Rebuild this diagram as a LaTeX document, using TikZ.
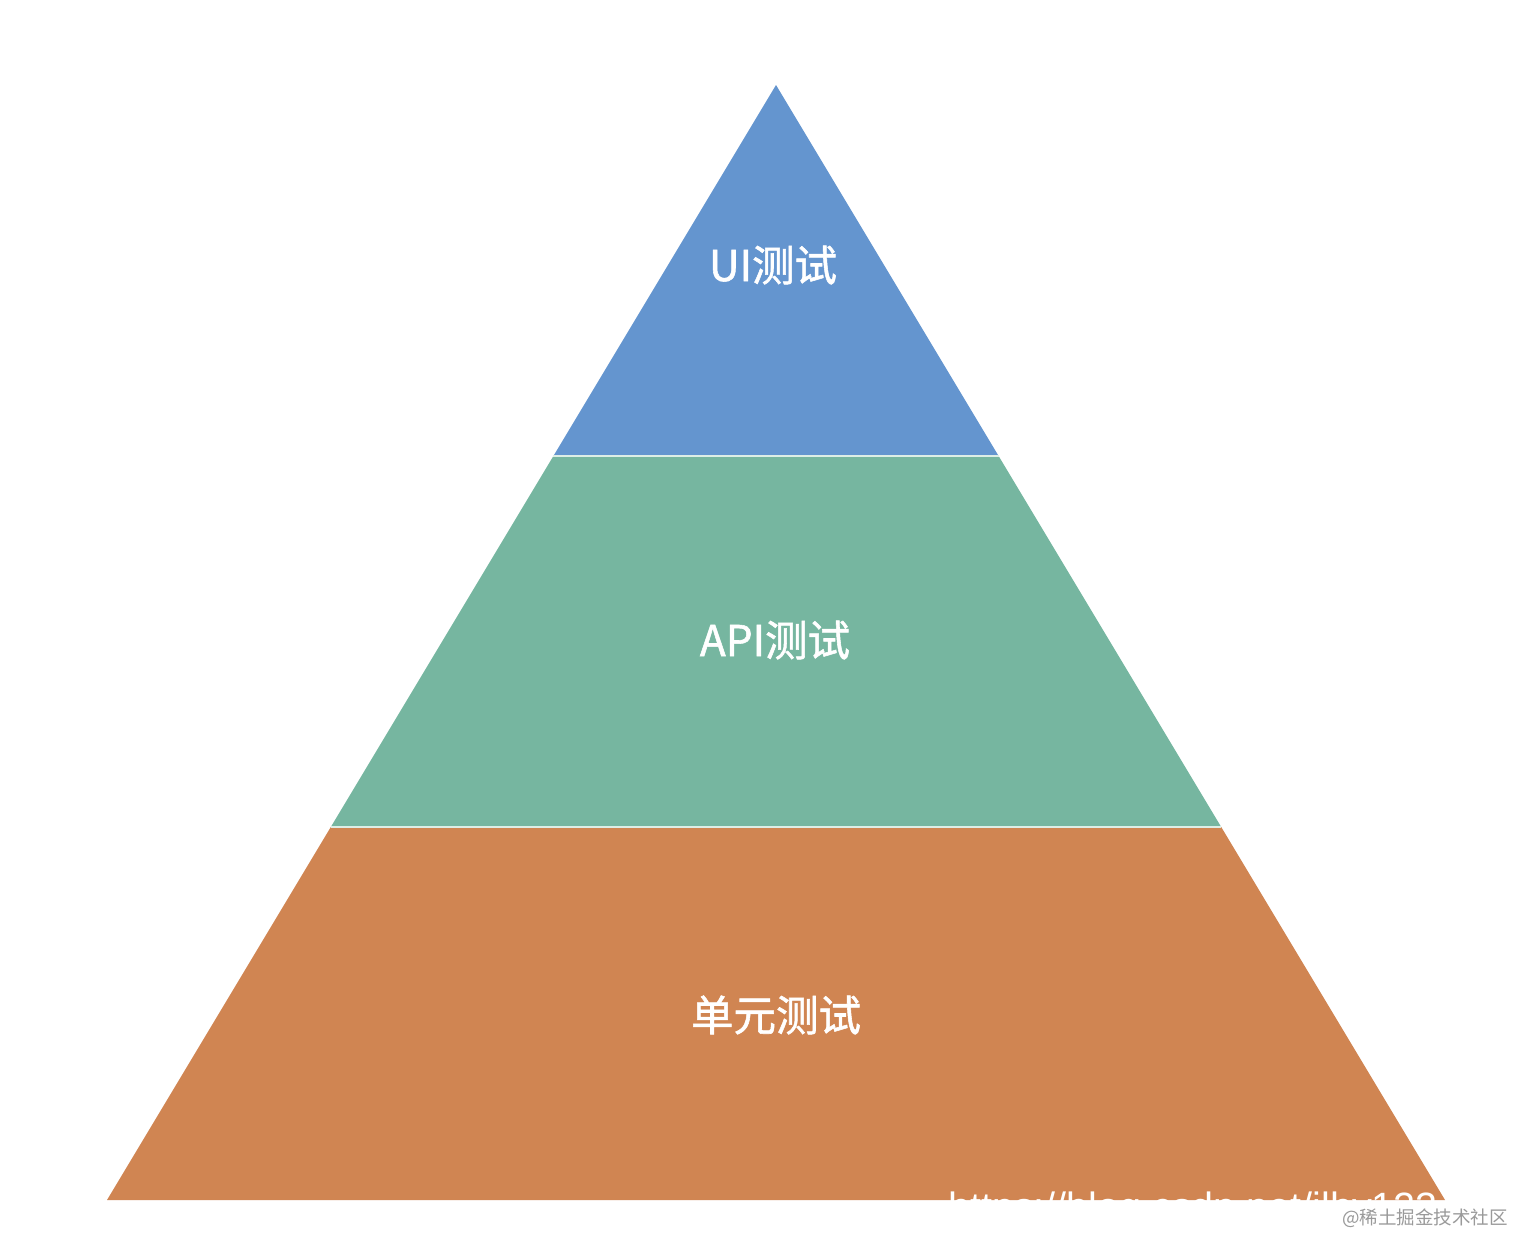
\documentclass[tikz,border=0pt]{standalone}
\usepackage{fontspec}
\setmainfont{Liberation Sans}
\newfontfamily\cjk[FakeBold=1.3]{Noto Sans CJK SC}
\newfontfamily\cjkwm{Noto Sans CJK SC}
\definecolor{uiblue}{HTML}{6495CF}
\definecolor{apigreen}{HTML}{76B6A0}
\definecolor{unitorange}{HTML}{D08552}
\definecolor{sepline}{HTML}{DDEEE6}
\definecolor{wmgray}{HTML}{9A9A9A}
\begin{document}
\begin{tikzpicture}[x=1pt,y=-1pt,
  layerlabel/.style={text=white,font=\cjk\fontsize{42.5}{43}\selectfont,inner sep=0pt,anchor=center},
  sep/.style={draw=sepline,line width=2.5pt}]
\useasboundingbox[fill=white] (0,0) rectangle (1514,1234);
% key points
\coordinate (apex) at (776,85);
\coordinate (l1) at (553.4,456); \coordinate (r1) at (998.6,456);
\coordinate (l2) at (330.8,827); \coordinate (r2) at (1221.2,827);
\coordinate (l3) at (107,1200);  \coordinate (r3) at (1445,1200);
% layers
\fill[unitorange] (l2) -- (r2) -- (r3) -- (l3) -- cycle;
\fill[apigreen] (l1) -- (r1) -- (r2) -- (l2) -- cycle;
\fill[uiblue] (apex) -- (r1) -- (l1) -- cycle;
\draw[sep] (l1) -- (r1);
\draw[sep] (l2) -- (r2);
% labels
\node[layerlabel] (ui) at (773,265) {UI测试};
\node[layerlabel] (api) at (775,640) {API测试};
\node[layerlabel] (unit) at (776,1015) {单元测试};
% watermarks
\begin{scope}
\clip (l3) -- (r3) -- (1514,1200) -- (1514,0) -- (0,0) -- (0,1200) -- cycle;
\node[text=white,font=\fontsize{39.5}{40}\selectfont,inner sep=0pt,anchor=base west] (url) at (948,1220) {https://blog.csdn.net/ilhy123};
\end{scope}
\node[text=wmgray,font=\cjkwm\fontsize{18.5}{19}\selectfont,inner sep=0pt,anchor=base east] (jj) at (1508,1224) {@稀土掘金技术社区};
\end{tikzpicture}
\end{document}
